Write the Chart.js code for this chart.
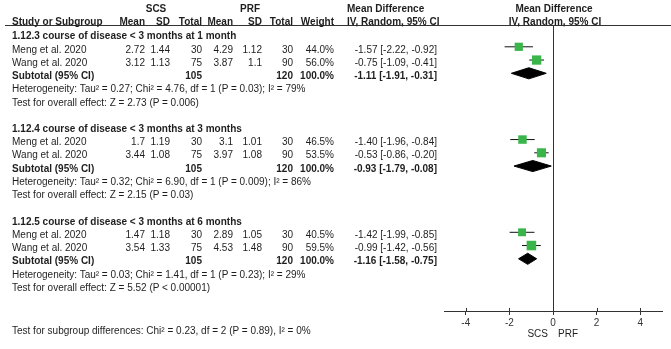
<!DOCTYPE html>
<html>
<head>
<meta charset="utf-8">
<script src="https://cdn.jsdelivr.net/npm/chart.js@4.4.1/dist/chart.umd.min.js"></script>
<style>
  html, body { margin: 0; padding: 0; background: #fff; }
  #wrap { position: relative; width: 671px; height: 349px; overflow: hidden;
          font-family: 'Liberation Sans', Arial, sans-serif; font-size: 10px; color: #1e1e1e; }
  #plot { position: absolute; left: 0; top: 0; }
  .t { position: absolute; white-space: nowrap; line-height: 12px; }
  .b { font-weight: bold; }
  #rule { position: absolute; left: 5px; top: 25px; width: 666px; height: 1px; background: #333; }
</style>
</head>
<body>
<div id="wrap">
  <canvas id="plot" width="671" height="349"></canvas>
  <div id="rule"></div>
</div>
<script>
const groupTitles = [
  '1.12.3 course of disease < 3 months at 1 month',
  '1.12.4 course of disease < 3 months at 3 months',
  '1.12.5 course of disease < 3 months at 6 months'
];
const studyNames = ['Meng et al. 2020', 'Wang et al. 2020'];

const scsMean  = [[2.72, 3.12], [1.7, 3.44], [1.47, 3.54]];
const scsSD    = [[1.44, 1.13], [1.19, 1.08], [1.18, 1.33]];
const scsTotal = [[30, 75], [30, 75], [30, 75]];
const prfMean  = [[4.29, 3.87], [3.1, 3.97], [2.89, 4.53]];
const prfSD    = [[1.12, 1.1], [1.01, 1.08], [1.05, 1.48]];
const prfTotal = [[30, 90], [30, 90], [30, 90]];
const weights  = [[44.0, 56.0], [46.5, 53.5], [40.5, 59.5]];

const md     = [[-1.57, -0.75], [-1.40, -0.53], [-1.42, -0.99]];
const mdLow  = [[-2.22, -1.09], [-1.96, -0.86], [-1.99, -1.42]];
const mdHigh = [[-0.92, -0.41], [-0.84, -0.20], [-0.85, -0.56]];

const subMd   = [-1.11, -0.93, -1.16];
const subLow  = [-1.91, -1.79, -1.58];
const subHigh = [-0.31, -0.08, -0.75];

const heterogeneity = [
  'Heterogeneity: Tau² = 0.27; Chi² = 4.76, df = 1 (P = 0.03); I² = 79%',
  'Heterogeneity: Tau² = 0.32; Chi² = 6.90, df = 1 (P = 0.009); I² = 86%',
  'Heterogeneity: Tau² = 0.03; Chi² = 1.41, df = 1 (P = 0.23); I² = 29%'
];
const overallTests = [
  'Test for overall effect: Z = 2.73 (P = 0.006)',
  'Test for overall effect: Z = 2.15 (P = 0.03)',
  'Test for overall effect: Z = 5.52 (P < 0.00001)'
];
const subgroupTest = 'Test for subgroup differences: Chi² = 0.23, df = 2 (P = 0.89), I² = 0%';

const xTicks = [-4, -2, 0, 2, 4];

// layout
const FONT = "'Liberation Sans', Arial, sans-serif";
const GREEN = '#3ab54a';
const ROWS_PER_GROUP = 7;          // title, 2 studies, subtotal, heterogeneity, test, blank
const Y_MIN = -0.57, Y_MAX = 20.94; // row units visible in the plot area
const TEXT_SHIFT = 2.7;            // text sits a little lower than the marks
const DIAMOND_H = 0.42;            // half height of a diamond, row units
const COL = { label: 12, scsMean: 145, scsSD: 170, scsTotal: 202,
              prfMean: 233, prfSD: 262, prfTotal: 293, weight: 334, ci: 437 };

function rowOf(g, k) { return g * ROWS_PER_GROUP + k; }
function f2(v) { return v.toFixed(2); }

const ciSets = [];
const squares = [];
const squareSizes = [];
const diamondSets = [];

groupTitles.forEach((title, g) => {
  studyNames.forEach((name, s) => {
    const y = rowOf(g, s + 1);
    ciSets.push({
      type: 'line',
      data: [{ x: mdLow[g][s], y }, { x: mdHigh[g][s], y }],
      borderColor: '#111', borderWidth: 1, pointRadius: 0, order: 2
    });
    squares.push({ x: md[g][s], y });
    squareSizes.push(1.24 * Math.sqrt(weights[g][s]) / Math.SQRT2);
  });
  const y = rowOf(g, 3);
  diamondSets.push({
    type: 'line',
    data: [
      { x: subLow[g], y },
      { x: subMd[g], y: y - DIAMOND_H },
      { x: subHigh[g], y },
      { x: subMd[g], y: y + DIAMOND_H },
      { x: subLow[g], y }
    ],
    borderColor: '#000', backgroundColor: '#000', borderWidth: 1,
    pointRadius: 0, fill: 'shape', tension: 0, order: 1
  });
});

// tick marks in RevMan style cross the axis line, so add the upper half
const upTicks = {
  id: 'upTicks',
  afterDraw(c) {
    const ctx = c.ctx, xs = c.scales.x, yb = Math.round(c.chartArea.bottom);
    ctx.save();
    ctx.strokeStyle = '#333';
    ctx.lineWidth = 1;
    xs.ticks.forEach(t => {
      const px = Math.round(xs.getPixelForValue(t.value)) + 0.5;
      ctx.beginPath();
      ctx.moveTo(px, yb - 3);
      ctx.lineTo(px, yb);
      ctx.stroke();
    });
    ctx.restore();
  }
};

const chart = new Chart(document.getElementById('plot'), {
  type: 'scatter',
  data: {
    datasets: [
      { type: 'scatter', data: squares, pointStyle: 'rect', pointRadius: squareSizes,
        backgroundColor: GREEN, borderWidth: 0, order: 0 },
      ...diamondSets,
      ...ciSets
    ]
  },
  options: {
    responsive: false,
    animation: false,
    events: [],
    layout: { padding: { left: 444, right: 9, top: 26, bottom: 0 } },
    plugins: { legend: { display: false }, tooltip: { enabled: false } },
    scales: {
      x: {
        type: 'linear', min: -5, max: 5,
        afterBuildTicks: s => { s.ticks = xTicks.map(v => ({ value: v })); },
        afterFit: s => { s.height = 38; },
        grid: {
          drawOnChartArea: true,
          color: c => (c.tick && c.tick.value === 0 ? '#333' : 'rgba(0,0,0,0)'),
          tickColor: '#333', tickLength: 4, lineWidth: 1
        },
        border: { display: true, color: '#333', width: 1 },
        ticks: { color: '#333', padding: 2, maxRotation: 0, font: { family: FONT, size: 10 } }
      },
      y: { type: 'linear', display: false, reverse: true, min: Y_MIN, max: Y_MAX }
    }
  },
  plugins: [upTicks]
});

// table text, placed on the chart's own row scale
const wrap = document.getElementById('wrap');
function put(str, x, yc, align, bold) {
  const d = document.createElement('div');
  d.className = 't' + (bold ? ' b' : '');
  d.textContent = str;
  d.style.top = (yc - 6) + 'px';
  if (align === 'right') { d.style.left = (x - 300) + 'px'; d.style.width = '300px'; d.style.textAlign = 'right'; }
  else if (align === 'center') { d.style.left = (x - 150) + 'px'; d.style.width = '300px'; d.style.textAlign = 'center'; }
  else { d.style.left = x + 'px'; }
  wrap.appendChild(d);
}

const ys = chart.scales.y, xs = chart.scales.x;
const x0 = xs.getPixelForValue(0);
const rowY = (g, k) => ys.getPixelForValue(rowOf(g, k)) + TEXT_SHIFT;

// header
put('SCS', 156, 8.5, 'center', true);
put('PRF', 250, 8.5, 'center', true);
put('Mean Difference', 347, 8.5, 'left', true);
put('Mean Difference', x0 + 1, 8.5, 'center', true);
put('Study or Subgroup', COL.label, 21.5, 'left', true);
put('Mean', COL.scsMean, 21.5, 'right', true);
put('SD', COL.scsSD, 21.5, 'right', true);
put('Total', COL.scsTotal, 21.5, 'right', true);
put('Mean', COL.prfMean, 21.5, 'right', true);
put('SD', COL.prfSD, 21.5, 'right', true);
put('Total', COL.prfTotal, 21.5, 'right', true);
put('Weight', COL.weight, 21.5, 'right', true);
put('IV, Random, 95% CI', 347, 21.5, 'left', true);
put('IV, Random, 95% CI', x0 + 2, 21.5, 'center', true);

groupTitles.forEach((title, g) => {
  put(title, COL.label, rowY(g, 0), 'left', true);
  studyNames.forEach((name, s) => {
    const y = rowY(g, s + 1);
    put(name, COL.label, y, 'left');
    put(String(scsMean[g][s]), COL.scsMean, y, 'right');
    put(String(scsSD[g][s]), COL.scsSD, y, 'right');
    put(String(scsTotal[g][s]), COL.scsTotal, y, 'right');
    put(String(prfMean[g][s]), COL.prfMean, y, 'right');
    put(String(prfSD[g][s]), COL.prfSD, y, 'right');
    put(String(prfTotal[g][s]), COL.prfTotal, y, 'right');
    put(weights[g][s].toFixed(1) + '%', COL.weight, y, 'right');
    put(`${f2(md[g][s])} [${f2(mdLow[g][s])}, ${f2(mdHigh[g][s])}]`, COL.ci, y, 'right');
  });
  const y = rowY(g, 3);
  put('Subtotal (95% CI)', COL.label, y, 'left', true);
  put(String(scsTotal[g].reduce((a, b) => a + b, 0)), COL.scsTotal, y, 'right', true);
  put(String(prfTotal[g].reduce((a, b) => a + b, 0)), COL.prfTotal, y, 'right', true);
  put('100.0%', COL.weight, y, 'right', true);
  put(`${f2(subMd[g])} [${f2(subLow[g])}, ${f2(subHigh[g])}]`, COL.ci, y, 'right', true);
  put(heterogeneity[g], COL.label, rowY(g, 4), 'left');
  put(overallTests[g], COL.label, rowY(g, 5), 'left');
});

put('SCS', x0 - 5, 334, 'right');
put('PRF', x0 + 5, 334, 'left');
put(subgroupTest, COL.label, 331, 'left');
</script>
</body>
</html>
